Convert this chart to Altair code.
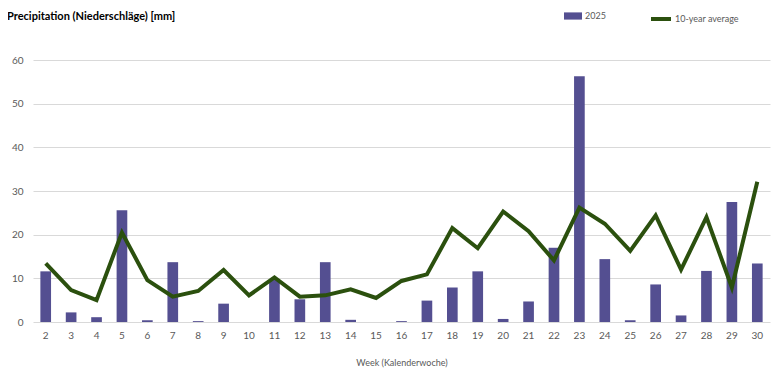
import altair as alt
import pandas as pd

weeks = list(range(2, 31))
rain_2025 = [11.6, 2.2, 1.1, 25.6, 0.4, 13.7, 0.2, 4.2, 0.0, 9.7,
             5.2, 13.7, 0.5, 0.0, 0.2, 4.9, 7.9, 11.6, 0.7, 4.7,
             17.0, 56.3, 14.4, 0.4, 8.6, 1.5, 11.7, 27.5, 13.4]
avg_10y = [13.4, 7.3, 5.0, 20.5, 9.6, 5.8, 7.1, 11.9, 6.1, 10.2,
           5.8, 6.1, 7.5, 5.5, 9.4, 10.9, 21.5, 16.9, 25.3, 20.8,
           14.1, 26.2, 22.5, 16.3, 24.4, 12.0, 24.0, 7.9, 32.1]
y_ticks = [0, 10, 20, 30, 40, 50, 60]

BAR = "#544f91"
LINE = "#2b500e"
GRAY = "#595959"
FONT = "Lato"

df = pd.DataFrame({"week": weeks, "rain": rain_2025, "avg": avg_10y,
                   "s1": "2025", "s2": "10-year average"})

x = alt.X("week:O",
          scale=alt.Scale(paddingInner=0.58, paddingOuter=0.29),
          axis=alt.Axis(title="Week (Kalenderwoche)", labelAngle=0,
                        labelFont=FONT, labelFontSize=10, labelColor=GRAY,
                        labelPadding=8, ticks=False, domain=False,
                        titleFont=FONT, titleFontSize=9, titleFontWeight="normal",
                        titleColor=GRAY, titlePadding=18))

yscale = alt.Scale(domain=[0, 60], nice=False)
yaxis = alt.Axis(title=None, values=y_ticks, labelFont=FONT, labelFontSize=10,
                 labelColor=GRAY, labelPadding=10, ticks=False, domain=False,
                 gridColor="#d9d9d9", gridWidth=1)

bars = alt.Chart(df).mark_bar().encode(
    x=x,
    y=alt.Y("rain:Q", scale=yscale, axis=yaxis),
    color=alt.Color("s1:N", scale=alt.Scale(domain=["2025"], range=[BAR]),
                    legend=alt.Legend(title=None, orient="none", legendX=531, legendY=-53,
                                      symbolType="M-1,-0.4H1V0.4H-1Z", symbolSize=324,
                                      symbolStrokeWidth=0, padding=0,
                                      labelFont=FONT, labelFontSize=9, labelColor=GRAY,
                                      labelOffset=3)),
)

line = alt.Chart(df).mark_line(strokeWidth=4).encode(
    x=x,
    y=alt.Y("avg:Q", scale=yscale, axis=yaxis),
    stroke=alt.Stroke("s2:N", scale=alt.Scale(domain=["10-year average"], range=[LINE]),
                      legend=alt.Legend(title=None, orient="none", legendX=616, legendY=-53,
                                        symbolType="stroke", symbolSize=400,
                                        symbolStrokeWidth=4, padding=0,
                                        labelFont=FONT, labelFontSize=9, labelColor=GRAY,
                                        labelOffset=2)),
)

chart = alt.layer(bars, line).properties(
    width=737, height=262,
    autosize=alt.AutoSizeParams(type="none"),
    padding={"left": 25, "top": 52, "right": 2, "bottom": 48},
    title=alt.TitleParams(text="Precipitation (Niederschläge) [mm]", anchor="start",
                          frame="group",
                          font=FONT, fontSize=11, fontWeight="bold", color="#000000",
                          dx=-26, offset=-15),
).configure_view(stroke=None)

chart.save("out.html", embed_options={"renderer": "svg", "actions": False})
